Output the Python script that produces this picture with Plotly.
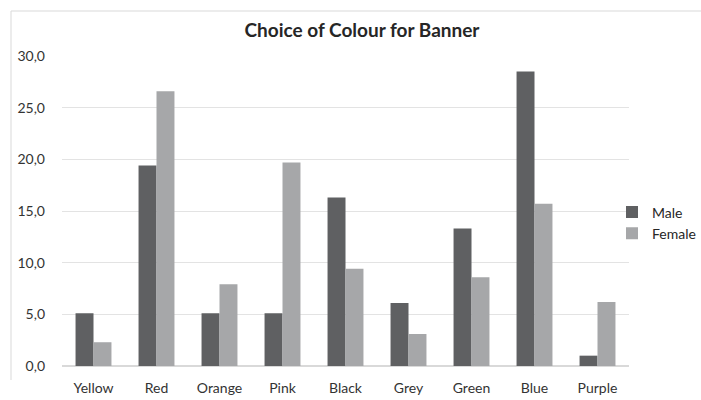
import plotly.graph_objects as go

categories = ["Yellow", "Red", "Orange", "Pink", "Black", "Grey", "Green", "Blue", "Purple"]
male = [5.1, 19.4, 5.1, 5.1, 16.3, 6.1, 13.3, 28.5, 1.0]
female = [2.3, 26.6, 7.9, 19.7, 9.4, 3.1, 8.6, 15.7, 6.2]
y_ticks = [0, 5, 10, 15, 20, 25, 30]

L, R, T, B = 62, 72, 56, 34
PW, PH = 701 - L - R, 400 - T - B

fig = go.Figure()
fig.add_trace(go.Bar(name="Male", x=categories, y=male, marker_color="#5f6062",
                     marker_line_width=0))
fig.add_trace(go.Bar(name="Female", x=categories, y=female, marker_color="#a6a7a9",
                     marker_line_width=0))

fig.update_layout(
    width=701, height=400,
    margin=dict(l=L, r=R, t=T, b=B, autoexpand=False),
    paper_bgcolor="white", plot_bgcolor="white",
    font=dict(family="Lato, Open Sans, sans-serif", size=14, color="#333333"),
    separators=",.",
    barmode="group", bargap=0.43, bargroupgap=0,
    title=dict(text="<b>Choice of Colour for Banner</b>", x=362 / 701, xref="container",
               xanchor="center",
               y=1 - 30 / 400, yref="container", yanchor="middle",
               font=dict(size=19, color="#262626")),
    showlegend=True,
    legend=dict(x=(612 - L) / PW, xanchor="left", y=(366 - 223) / PH, yanchor="middle",
                font=dict(size=14, color="#262626"), itemwidth=30,
                bgcolor="rgba(0,0,0,0)", tracegroupgap=6),
    xaxis=dict(showgrid=False, showline=False, ticks="", ticklabelstandoff=12,
               tickfont=dict(size=14)),
    yaxis=dict(range=[0, 30], tickvals=y_ticks, tickformat=".1f", showgrid=True,
               gridcolor="#e3e3e3", gridwidth=1, zeroline=True, zerolinecolor="#d9d9d9",
               showline=False, ticks="", ticklen=0, ticklabelstandoff=16,
               tickfont=dict(size=14)),
    shapes=[
        dict(type="line", xref="paper", yref="paper", x0=-(L - 11) / PW, x1=1 + R / PW,
             y0=1 + (T - 11) / PH, y1=1 + (T - 11) / PH,
             line=dict(color="#d9d9d9", width=1)),
        dict(type="line", xref="paper", yref="paper", x0=-(L - 11) / PW, x1=-(L - 11) / PW,
             y0=1 + (T - 11) / PH, y1=-(380 - 366) / PH,
             line=dict(color="#d9d9d9", width=1)),
    ],
)

fig.write_html("out.html")
